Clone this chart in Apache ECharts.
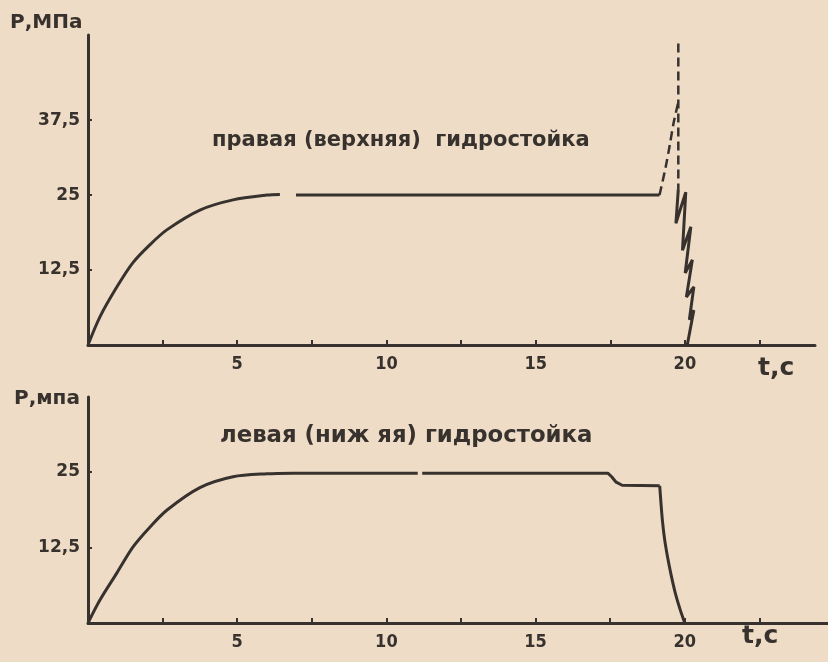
<!DOCTYPE html>
<html>
<head>
<meta charset="utf-8">
<script src="https://cdn.jsdelivr.net/npm/echarts@6/dist/echarts.min.js"></script>
<style>
html, body { margin: 0; padding: 0; background: #eedcc6; }
#chart { width: 828px; height: 662px; }
</style>
</head>
<body>
<div id="chart"></div>
<script>
// ticks / labels
const xTicks = [2.5, 5, 7.5, 10, 12.5, 15, 17.5, 20, 22.5];
const xLabels = [5, 10, 15, 20];
const yTicksTop = [12.5, 25, 37.5];
const yTicksBottom = [12.5, 25];

// правая (верхняя) гидростойка
const rightRiseT = [0, 0.4, 0.97, 1.5, 2.07, 2.64, 3.75, 4.86, 6.0, 6.43];
const rightRiseP = [0, 4.7, 9.7, 13.7, 16.7, 19.2, 22.5, 24.2, 25, 25.1];
const rightFlatT = [6.97, 19.15];
const rightFlatP = [25, 25];
const rightPeakT = [19.15, 19.35, 19.5, 19.62, 19.78];
const rightPeakP = [25, 29.5, 33.5, 37, 40.5];
const rightSpikeT = [19.78, 19.78];
const rightSpikeP = [50.3, 26];
const rightDropT = [19.78, 19.70, 20.03, 19.92, 20.2, 20.01, 20.25, 20.05, 20.3, 20.15, 20.3, 20.08];
const rightDropP = [26, 20.3, 25.5, 15.8, 19.7, 12, 14.2, 8, 9.7, 4.2, 5.8, 0];

// левая (нижняя) гидростойка
const leftRiseT = [0, 0.4, 0.97, 1.51, 2.08, 2.65, 3.75, 4.86, 6.0, 6.87];
const leftRiseP = [0, 3.8, 8.3, 12.6, 15.9, 18.7, 22.4, 24.2, 24.7, 24.8];
const leftFlatT = [6.87, 11.05];
const leftFlatP = [24.8, 24.8];
const leftRestT = [11.2, 17.42, 17.55, 17.7, 17.9, 19.16];
const leftRestP = [24.8, 24.8, 24.2, 23.3, 22.8, 22.7];
const leftFallT = [19.16, 19.2, 19.25, 19.32, 19.42, 19.54, 19.68, 19.84, 20.0];
const leftFallP = [22.7, 20.0, 17.0, 14.0, 11.0, 8.0, 5.0, 2.3, 0];

const ink = '#37322d';
const paper = '#eedcc6';

function comma(v) { return String(v).replace('.', ','); }

function xAxisOf(idx, max) {
    return {
        type: 'value', gridIndex: idx, min: 0, max: max,
        axisLine: { show: true, onZero: false, lineStyle: { color: ink, width: 3 } },
        axisTick: { show: true, inside: true, length: 5, customValues: xTicks, lineStyle: { color: ink, width: 2 } },
        axisLabel: { customValues: xLabels, margin: 10, color: ink, fontFamily: 'DejaVu Sans Condensed', fontWeight: 'bold', fontSize: 18 },
        splitLine: { show: false }
    };
}

function yAxisOf(idx, max, ticks) {
    return {
        type: 'value', gridIndex: idx, min: 0, max: max,
        axisLine: { show: true, lineStyle: { color: ink, width: 3 } },
        axisTick: { show: true, inside: true, length: 4, customValues: ticks, lineStyle: { color: ink, width: 2 } },
        axisLabel: { customValues: ticks, margin: 8, color: ink, fontFamily: 'DejaVu Sans', fontWeight: 'bold', fontSize: 17, formatter: comma },
        splitLine: { show: false }
    };
}

function line(idx, ts, ps, dashed, smooth) {
    return {
        type: 'line', xAxisIndex: idx, yAxisIndex: idx,
        data: ts.map((t, i) => [t, ps[i]]),
        symbol: 'none', smooth: smooth ? 0.3 : false,
        lineStyle: { color: ink, width: dashed ? 2.5 : 3, type: dashed ? [9, 5] : 'solid' },
        animation: false
    };
}

function txt(left, top, text, size, family) {
    return {
        type: 'text', left: left, top: top,
        style: { text: text, fill: ink, font: 'bold ' + size + 'px "' + (family || 'DejaVu Sans') + '"' }
    };
}

let myChart = echarts.init(document.getElementById('chart'));
let option = {
    backgroundColor: paper,
    animation: false,
    grid: [
        { left: 88, top: 35, width: 727, height: 310 },
        { left: 88, top: 397, width: 740, height: 226 }
    ],
    xAxis: [xAxisOf(0, 24.36), xAxisOf(1, 24.8)],
    yAxis: [yAxisOf(0, 51.7, yTicksTop), yAxisOf(1, 37.4, yTicksBottom)],
    series: [
        line(0, rightRiseT, rightRiseP, false, true),
        line(0, rightFlatT, rightFlatP, false, false),
        line(0, rightPeakT, rightPeakP, true, true),
        line(0, rightSpikeT, rightSpikeP, true, false),
        line(0, rightDropT, rightDropP, false, false),
        line(1, leftRiseT, leftRiseP, false, true),
        line(1, leftFlatT, leftFlatP, false, false),
        line(1, leftRestT, leftRestP, false, false),
        line(1, leftFallT, leftFallP, false, true)
    ],
    graphic: [
        txt(10, 13, 'Р,МПа', 20),
        txt(14, 389, 'Р,мпа', 20),
        txt(212, 130, 'правая (верхняя)  гидростойка', 21),
        txt(220, 425, 'левая (ниж яя) гидростойка', 22.8),
        txt(758, 356, 't,c', 25),
        txt(742, 624, 't,c', 25)
    ]
};
myChart.setOption(option);
</script>
</body>
</html>
